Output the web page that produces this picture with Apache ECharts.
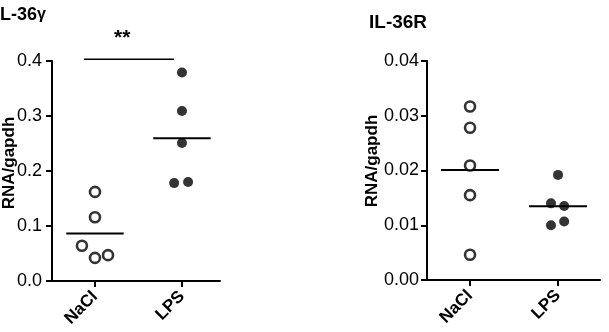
<!DOCTYPE html>
<html>
<head>
<meta charset="utf-8">
<script src="https://cdn.jsdelivr.net/npm/echarts@6/dist/echarts.min.js"></script>
<style>html,body{margin:0;padding:0;background:#fff;}#c{width:609px;height:332px;}</style>
</head>
<body>
<div id="c"></div>
<script>
// ---- data ----
const categories = ['NaCl', 'LPS'];
// IL-36γ panel
const g_NaCl = [0.162, 0.116, 0.064, 0.042, 0.047];
const g_NaCl_jitter = [0, 0, -0.15, 0, 0.15];
const g_LPS = [0.379, 0.309, 0.251, 0.178, 0.180];
const g_LPS_jitter = [0, 0, 0, -0.09, 0.07];
// IL-36R panel
const r_NaCl = [0.0317, 0.0278, 0.0209, 0.0155, 0.0046];
const r_NaCl_jitter = [0, 0, 0, 0, 0];
const r_LPS = [0.0192, 0.0140, 0.0135, 0.0100, 0.0107];
const r_LPS_jitter = [0, -0.08, 0.07, -0.08, 0.07];
const leftTicks = [0, 0.1, 0.2, 0.3, 0.4];
const rightTicks = [0, 0.01, 0.02, 0.03, 0.04];
const sigBar = { from: 0.874, to: 1.91, y: 0.403, label: '**' };

const font = 'Liberation Sans, Arial, Helvetica, sans-serif';
const mean = a => a.reduce((s, v) => s + v, 0) / a.length;
const pts = (vals, jit, pos) => vals.map((v, i) => [pos + jit[i], v]);
const meanLine = (vals, pos) => [[pos - 0.33, mean(vals)], [pos + 0.33, mean(vals)]];

function xAxis(idx, min, max) {
  return {
    type: 'value', gridIndex: idx, min: min, max: max,
    axisLine: { show: true, onZero: false, lineStyle: { color: '#000', width: 2 } },
    axisTick: { show: true, customValues: [1, 2], length: 6, lineStyle: { color: '#000', width: 2 } },
    axisLabel: { show: true, customValues: [1, 2], rotate: 45, margin: 13,
      formatter: v => categories[Math.round(v) - 1] || '',
      color: '#000', fontSize: 17, fontWeight: 'bold', fontFamily: font },
    splitLine: { show: false }
  };
}
function yAxis(idx, ticks, dec, margin) {
  return {
    type: 'value', gridIndex: idx, min: ticks[0], max: ticks[ticks.length - 1],
    interval: ticks[1] - ticks[0],
    axisLine: { show: true, lineStyle: { color: '#000', width: 2 } },
    axisTick: { show: true, length: 6, lineStyle: { color: '#000', width: 2 } },
    axisLabel: { color: '#000', fontSize: 18, fontFamily: font, margin: margin,
      formatter: v => v.toFixed(dec) },
    splitLine: { show: false }
  };
}
const openSym = { color: '#fff', borderColor: '#000', borderWidth: 2.6 };
const fillSym = { color: '#000' };

const chart = echarts.init(document.getElementById('c'));
chart.setOption({
  animation: false,
  grid: [
    { left: 52, top: 61, width: 168, height: 220 },
    { left: 427, top: 61, width: 173, height: 219 }
  ],
  xAxis: [xAxis(0, 0.506, 2.437), xAxis(1, 0.511, 2.477)],
  yAxis: [yAxis(0, leftTicks, 1, 10), yAxis(1, rightTicks, 2, 8)],
  graphic: [
    { type: 'text', left: -5, top: 6, style: { text: '{a|IL-36}{b|γ}', rich: {
      a: { fontSize: 18, fontWeight: 'bold', fontFamily: font, fill: '#000' },
      b: { fontSize: 16, fontWeight: 'bold', fontFamily: font, fill: '#000' } } } },
    { type: 'text', left: 369, top: 13, style: { text: 'IL-36R', fontSize: 19, fontWeight: 'bold', fontFamily: font, fill: '#000' } },
    { type: 'text', x: 9, y: 163, rotation: Math.PI / 2, style: { text: 'RNA/gapdh', fontSize: 17, fontWeight: 'bold', fontFamily: font, fill: '#000', align: 'center', verticalAlign: 'middle' } },
    { type: 'text', x: 372, y: 161, rotation: Math.PI / 2, style: { text: 'RNA/gapdh', fontSize: 17, fontWeight: 'bold', fontFamily: font, fill: '#000', align: 'center', verticalAlign: 'middle' } },
    { type: 'text', left: 114, top: 28, style: { text: sigBar.label, fontSize: 21, fontWeight: 'bold', fontFamily: font, fill: '#000' } }
  ],
  series: [
    { type: 'scatter', xAxisIndex: 0, yAxisIndex: 0, symbolSize: 10, itemStyle: openSym, data: pts(g_NaCl, g_NaCl_jitter, 1), z: 3 },
    { type: 'scatter', xAxisIndex: 0, yAxisIndex: 0, symbolSize: 10, itemStyle: fillSym, data: pts(g_LPS, g_LPS_jitter, 2), z: 3 },
    { type: 'line', xAxisIndex: 0, yAxisIndex: 0, symbol: 'none', lineStyle: { color: '#000', width: 2 }, data: meanLine(g_NaCl, 1) },
    { type: 'line', xAxisIndex: 0, yAxisIndex: 0, symbol: 'none', lineStyle: { color: '#000', width: 2 }, data: meanLine(g_LPS, 2) },
    { type: 'line', xAxisIndex: 0, yAxisIndex: 0, symbol: 'none', clip: false, lineStyle: { color: '#000', width: 1.5 }, data: [[sigBar.from, sigBar.y], [sigBar.to, sigBar.y]] },
    { type: 'scatter', xAxisIndex: 1, yAxisIndex: 1, symbolSize: 10, itemStyle: openSym, data: pts(r_NaCl, r_NaCl_jitter, 1), z: 3 },
    { type: 'scatter', xAxisIndex: 1, yAxisIndex: 1, symbolSize: 10, itemStyle: fillSym, data: pts(r_LPS, r_LPS_jitter, 2), z: 3 },
    { type: 'line', xAxisIndex: 1, yAxisIndex: 1, symbol: 'none', lineStyle: { color: '#000', width: 2 }, data: meanLine(r_NaCl, 1) },
    { type: 'line', xAxisIndex: 1, yAxisIndex: 1, symbol: 'none', lineStyle: { color: '#000', width: 2 }, data: meanLine(r_LPS, 2) }
  ]
});
</script>
</body>
</html>
